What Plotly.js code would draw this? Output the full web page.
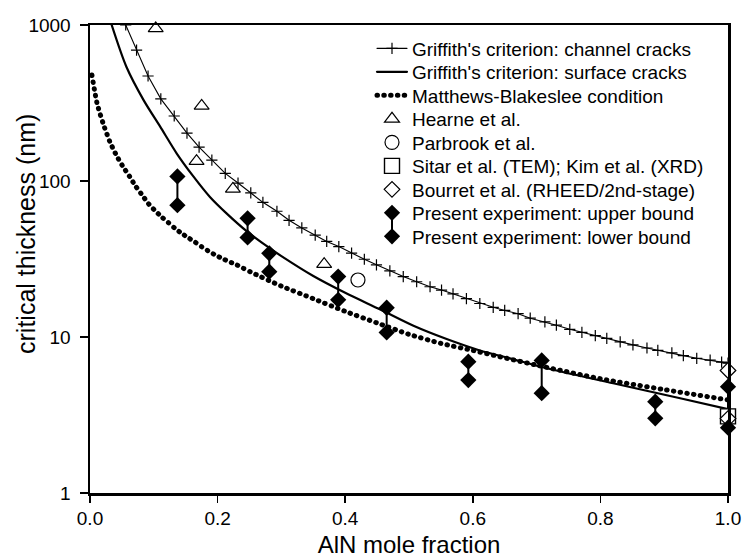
<!DOCTYPE html>
<html>
<head>
<meta charset="utf-8">
<script src="https://cdn.plot.ly/plotly-3.0.1.min.js"></script>
<style>
  html, body { margin: 0; padding: 0; background: #fff; }
  #chart { width: 744px; height: 558px; }
  .js-line { stroke-linecap: round; }
</style>
</head>
<body>
<div id="chart"></div>
<script>
// ---- data ----
// Griffith's criterion: channel cracks (line with + markers)
const chX = [0.056,0.073,0.091,0.111,0.132,0.152,0.171,0.191,0.212,0.232,0.252,0.271,0.293,0.312,0.332,0.353,0.371,0.39,0.41,0.43,0.449,0.47,0.491,0.512,0.533,0.551,0.569,0.59,0.611,0.632,0.65,0.671,0.69,0.713,0.731,0.752,0.771,0.792,0.81,0.831,0.851,0.873,0.89,0.912,0.93,0.951,0.972,0.99];
const chY = [1000,690,471,336,261,203,165,136,112,97,84,73,64,56,50,45,41,38,34.5,31.5,29,26.5,24.4,22.6,21.0,20.0,18.9,17.6,16.4,15.5,14.8,14.1,13.2,12.5,11.9,11.2,10.7,10.2,9.8,9.3,8.9,8.5,8.2,7.9,7.6,7.3,7.1,6.9];
const chEndX = [1.0];
const chEndY = [6.8];
// Griffith's criterion: surface cracks (solid line)
const sfX = [0.034,0.057,0.084,0.110,0.136,0.162,0.188,0.214,0.246,0.28,0.30,0.35,0.40,0.455,0.507,0.559,0.611,0.658,0.716,0.82,0.925,1.0];
const sfY = [1000,540,330,223,150,107,79,62,47.5,37.5,33,24.6,19.2,15.0,11.8,9.7,8.2,7.3,6.3,5.05,4.05,3.45];
// Matthews-Blakeslee condition (dotted)
const mbX = [0.003,0.011,0.021,0.031,0.041,0.051,0.062,0.072,0.083,0.091,0.102,0.112,0.123,0.133,0.144,0.154,0.165,0.175,0.185,0.196,0.207,0.218,0.23,0.24,0.251,0.30,0.35,0.40,0.45,0.50,0.55,0.60,0.70,0.80,0.90,1.0];
const mbY = [478,315,231,179,147,125,107,92,80,72,64.6,59,54,49.8,46,43.3,40.5,37.9,35.7,33.6,31.9,30.4,29,27.6,26.2,21.2,17.6,14.6,12.3,10.4,9.1,8.2,6.6,5.4,4.6,3.95];
// Literature data
const hearneX = [0.103,0.175,0.167,0.224,0.367];
const hearneY = [951,303,134,89,29.3];
const parbrookX = [0.42];
const parbrookY = [23.2];
const sitarX = [1.0];
const sitarY = [3.1];
const bourretX = [1.0,1.0];
const bourretY = [6.1,3.0];
// Present experiment
const expX = [0.137,0.247,0.281,0.389,0.465,0.593,0.708,0.886,1.0];
const upperY = [107,57.7,34.4,24.4,15.4,6.95,7.07,3.85,4.8];
const lowerY = [70,43.5,26.2,17.3,10.7,5.3,4.36,3.01,2.62];
// Axis ticks
const xTicks = [0,0.2,0.4,0.6,0.8,1.0];
const xTickText = ['0.0','0.2','0.4','0.6','0.8','1.0'];
const yTicks = [1,10,100,1000];
const yTickText = ['1','10','100','1000'];
const names = [
  "Griffith's criterion: channel cracks",
  "Griffith's criterion: surface cracks",
  "Matthews-Blakeslee condition",
  "Hearne et al.",
  "Parbrook et al.",
  "Sitar et al. (TEM); Kim et al. (XRD)",
  "Bourret et al. (RHEED/2nd-stage)",
  "Present experiment: upper bound",
  "Present experiment: lower bound"
];

// ---- build traces ----
const FONT = 'Liberation Sans, Arial, Helvetica, sans-serif';
const connX = [], connY = [];
expX.forEach((x, i) => { connX.push(x, x, null); connY.push(upperY[i], lowerY[i], null); });

const traces = [
  {x: connX, y: connY, mode: 'lines', line: {color: '#000', width: 2}, showlegend: false, hoverinfo: 'skip'},
  {x: chX.concat(chEndX), y: chY.concat(chEndY), mode: 'lines+markers', name: names[0], legend: 'legend',
   line: {color: '#000', width: 1.1},
   marker: {symbol: 'cross-thin-open', size: 8, color: '#000', line: {color: '#000', width: 1.2}}},
  {x: sfX, y: sfY, mode: 'lines', name: names[1], legend: 'legend2',
   line: {color: '#000', width: 2.2, shape: 'spline', smoothing: 0.8}},
  {x: mbX, y: mbY, mode: 'lines', name: names[2], legend: 'legend3',
   line: {color: '#000', width: 5, dash: '0.5px,6.3px', shape: 'spline', smoothing: 0.6}},
  {x: hearneX, y: hearneY, mode: 'markers', name: names[3], legend: 'legend4', cliponaxis: false,
   marker: {symbol: 'triangle-up', size: 13, color: '#fff', line: {color: '#000', width: 1.2}}},
  {x: parbrookX, y: parbrookY, mode: 'markers', name: names[4], legend: 'legend5', cliponaxis: false,
   marker: {symbol: 'circle', size: 14, color: '#fff', line: {color: '#000', width: 1.2}}},
  {x: sitarX, y: sitarY, mode: 'markers', name: names[5], legend: 'legend6', cliponaxis: false,
   marker: {symbol: 'square', size: 15, color: '#fff', line: {color: '#000', width: 1.4}}},
  {x: bourretX, y: bourretY, mode: 'markers', name: names[6], legend: 'legend7', cliponaxis: false,
   marker: {symbol: 'diamond', size: 12, color: '#fff', line: {color: '#000', width: 1.2}}},
  {x: expX, y: upperY, mode: 'markers', name: names[7], legend: 'legend8', cliponaxis: false,
   marker: {symbol: 'diamond', size: 12.5, color: '#000', line: {color: '#000', width: 0}}},
  {x: expX, y: lowerY, mode: 'markers', name: names[8], legend: 'legend9', cliponaxis: false,
   marker: {symbol: 'diamond', size: 12.5, color: '#000', line: {color: '#000', width: 0}}}
];

// plot area: x 90..728 px, y 25..493 px
const L = 90, T = 25, W = 638, H = 468;
const rowPx = [48.5, 72, 95.5, 119, 142.5, 166, 189.5, 213, 236.5];
const legX = (372 - L) / W;
const py = p => (T + H - p) / H;
const legendBase = {
  x: legX, xanchor: 'left', yanchor: 'middle',
  bgcolor: 'rgba(0,0,0,0)', borderwidth: 0,
  font: {family: FONT, size: 19, color: '#000'}
};
const layout = {
  width: 744, height: 558,
  margin: {l: L, r: 744 - L - W, t: T, b: 558 - T - H},
  paper_bgcolor: '#fff', plot_bgcolor: '#fff',
  font: {family: FONT, color: '#000'},
  xaxis: {
    range: [0, 1], tickvals: xTicks, ticktext: xTickText,
    ticks: 'outside', ticklen: 7, tickwidth: 1.5, tickcolor: '#000',
    showline: true, linecolor: '#000', linewidth: 2.5, mirror: true,
    showgrid: false, zeroline: false,
    tickfont: {family: FONT, size: 19, color: '#000'},
    title: {text: 'AlN mole fraction', font: {family: FONT, size: 24, color: '#000'}, standoff: 9}
  },
  yaxis: {
    type: 'log', range: [0, 3], tickvals: yTicks, ticktext: yTickText,
    ticks: 'outside', ticklen: 8, tickwidth: 1.5, tickcolor: '#000',
    ticklabelstandoff: 5,
    showline: true, linecolor: '#000', linewidth: 2.5, mirror: true,
    showgrid: false, zeroline: false,
    tickfont: {family: FONT, size: 19, color: '#000'},
    title: {text: ''}
  },
  annotations: [{
    text: 'critical thickness (nm)', textangle: -90,
    xref: 'paper', yref: 'paper', x: (26 - L) / W, y: py(234),
    xanchor: 'center', yanchor: 'middle', showarrow: false,
    font: {family: FONT, size: 25, color: '#000'}
  }],
  shapes: [{
    type: 'line', xref: 'paper', yref: 'paper',
    x0: (392 - L) / W, x1: (392 - L) / W, y0: py(rowPx[7]), y1: py(rowPx[8]),
    line: {color: '#000', width: 2}
  }],
  showlegend: true
};
const legendKeys = ['legend','legend2','legend3','legend4','legend5','legend6','legend7','legend8','legend9'];
legendKeys.forEach((k, i) => { layout[k] = Object.assign({}, legendBase, {y: py(rowPx[i])}); });

Plotly.newPlot('chart', traces, layout, {displayModeBar: false, staticPlot: true});
</script>
</body>
</html>
